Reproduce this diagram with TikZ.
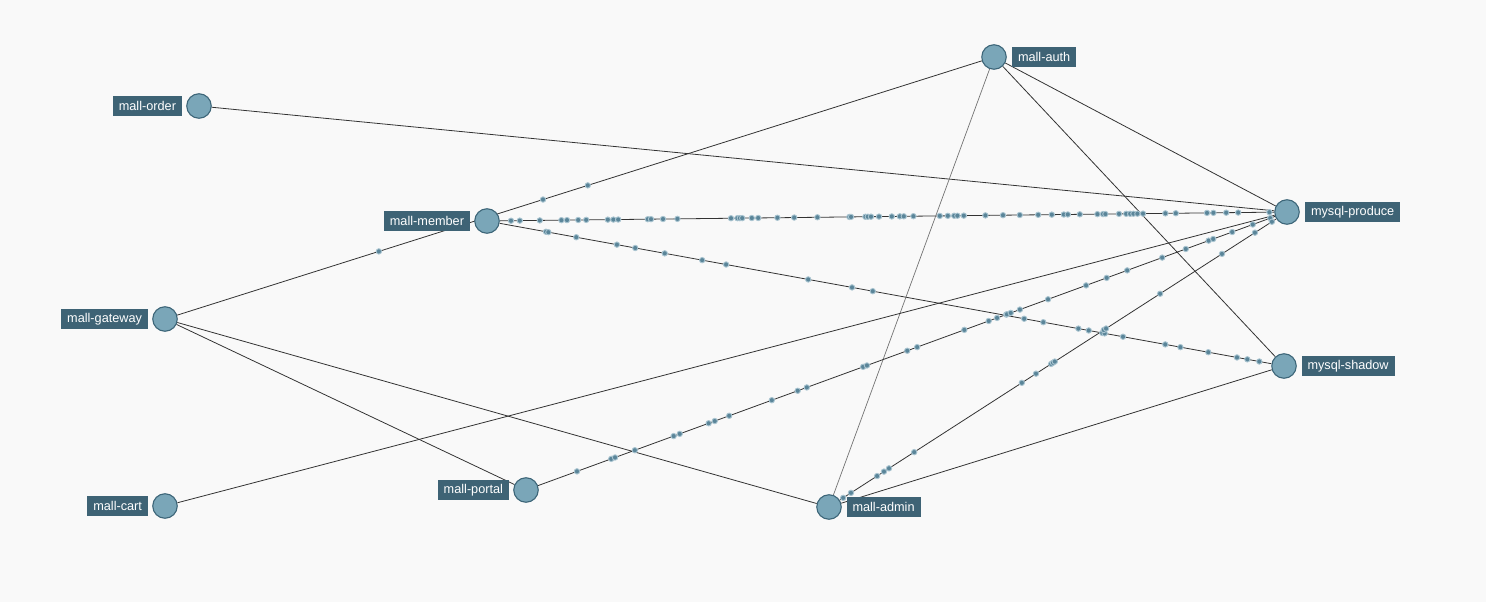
\documentclass[tikz,border=0pt]{standalone}
\usepackage{fontspec}
\setmainfont{Liberation Sans}
\usetikzlibrary{positioning,calc,backgrounds}
\definecolor{bgcol}{HTML}{F9F9F9}
\definecolor{tagcol}{HTML}{3E6375}
\definecolor{svccol}{HTML}{7AA6B8}
\definecolor{svcrim}{HTML}{3D6679}
\definecolor{pktcol}{HTML}{5A8599}
\definecolor{pktrim}{HTML}{A9C4D0}
\pgfdeclarelayer{bg}
\pgfsetlayers{bg,background,main}
\tikzset{
  svc/.style={circle,draw=svcrim,fill=svccol,line width=1.1pt,minimum size=24.5pt,inner sep=0pt},
  tag/.style={fill=tagcol,text=white,inner xsep=6pt,inner ysep=0pt,minimum height=20pt,font=\fontsize{12.7}{14}\selectfont},
  link/.style={draw=black!80,line width=0.8pt},
  faint/.style={draw=black!55,line width=0.7pt},
  pkt/.style={fill=pktcol,draw=pktrim,line width=0.9pt},
}
\newcommand{\pkts}[3]{\foreach \p in {#3}{\filldraw[pkt] ($(#1)!\p!(#2)$) circle (2.7pt);}}

\begin{document}
\begin{tikzpicture}[x=1pt,y=-1pt]
  \begin{pgfonlayer}{bg}
    \fill[bgcol] (0,0) rectangle (1486,602);
  \end{pgfonlayer}
  \useasboundingbox (0,0) rectangle (1486,602);
  % services
  \node[svc] (auth) at (994,57) {};
  \node[svc] (order) at (199,106) {};
  \node[svc] (member) at (487,221) {};
  \node[svc] (gateway) at (165,319) {};
  \node[svc] (cart) at (165,506) {};
  \node[svc] (portal) at (526,490) {};
  \node[svc] (admin) at (829,507) {};
  \node[svc] (produce) at (1287,212) {};
  \node[svc] (shadow) at (1284,366) {};
  % labels
  \node[tag,right=5pt of auth] (authtag) {mall-auth};
  \node[tag,left=4pt of order] (ordertag) {mall-order};
  \node[tag,left=4pt of member] (membertag) {mall-member};
  \node[tag,left=4pt of gateway] (gatewaytag) {mall-gateway};
  \node[tag,left=4pt of cart] (carttag) {mall-cart};
  \node[tag,left=4pt of portal] (portaltag) {mall-portal};
  \node[tag,right=4.5pt of admin] (admintag) {mall-admin};
  \node[tag,right=5pt of produce] (producetag) {mysql-produce};
  \node[tag,right=4.5pt of shadow] (shadowtag) {mysql-shadow};
  \begin{scope}[on background layer]
    % calls
    \draw[link] (order) -- (produce);
    \draw[link] (gateway) -- (auth);
    \draw[link] (gateway) -- (portal);
    \draw[link] (gateway) -- (admin);
    \draw[link] (member) -- (produce);
    \draw[link] (member) -- (shadow);
    \draw[link] (auth) -- (produce);
    \draw[link] (auth) -- (shadow);
    \draw[faint] (auth) -- (admin);
    \draw[link] (cart) -- (produce);
    \draw[link] (portal) -- (produce);
    \draw[link] (admin) -- (produce);
    \draw[link] (admin) -- (shadow);
    % traffic
    \pkts{gateway}{auth}{0.258,0.456,0.510}
    \pkts{member}{produce}{0.030,0.041,0.066,0.093,0.100,0.114,0.124,0.151,0.158,0.164,
      0.201,0.205,0.220,0.238,0.305,0.313,0.316,0.319,0.331,0.339,0.363,0.384,0.413,
      0.453,0.455,0.473,0.476,0.480,0.490,0.506,0.516,0.521,0.533,0.566,0.576,0.584,
      0.588,0.596,0.623,0.645,0.666,0.689,0.706,0.721,0.726,0.741,0.763,0.770,0.773,
      0.790,0.799,0.804,0.808,0.813,0.820,0.848,0.861,0.900,0.908,0.924,0.939,0.978}
    \pkts{member}{shadow}{0.074,0.077,0.112,0.163,0.186,0.223,0.270,0.300,0.403,0.458,
      0.484,0.674,0.698,0.742,0.755,0.772,0.775,0.798,0.851,0.870,0.905,0.941,0.954,0.969}
    \pkts{portal}{produce}{0.067,0.112,0.117,0.143,0.194,0.202,0.240,0.248,0.267,0.323,
      0.357,0.369,0.443,0.448,0.501,0.514,0.576,0.608,0.619,0.631,0.632,0.637,0.649,
      0.686,0.736,0.763,0.790,0.836,0.867,0.897,0.903,0.928,0.955,0.978}
    \pkts{admin}{produce}{0.031,0.048,0.105,0.120,0.131,0.186,0.421,0.452,0.485,0.489,
      0.493,0.600,0.605,0.723,0.858,0.930,0.967}
  \end{scope}
\end{tikzpicture}
\end{document}
